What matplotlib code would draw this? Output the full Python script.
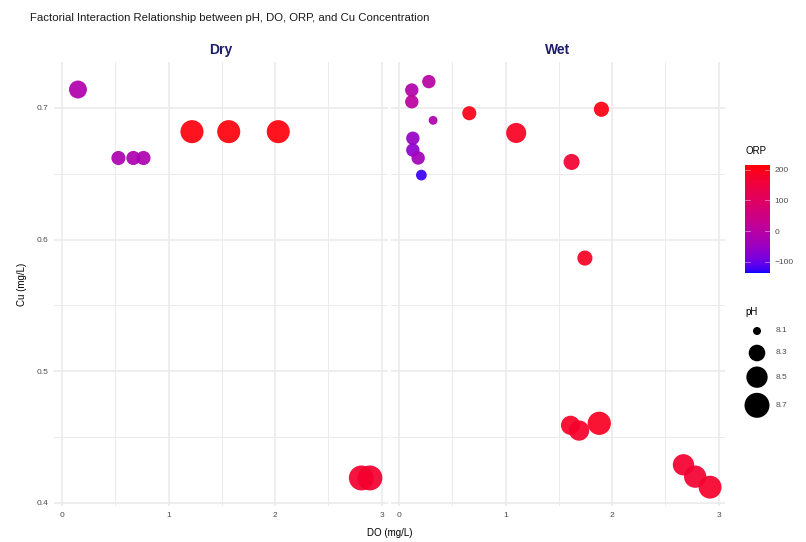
import numpy as np
import matplotlib
matplotlib.use("Agg")
import matplotlib.pyplot as plt
import matplotlib.colors as mcolors

plt.rcParams["font.family"] = ["Liberation Sans", "DejaVu Sans"]

# ---- data ----
dry_do = [0.15, 0.53, 0.67, 0.765, 1.22, 1.565, 2.03, 2.81, 2.89]
dry_cu = [0.714, 0.662, 0.662, 0.662, 0.682, 0.682, 0.682, 0.419, 0.419]
dry_ph = [8.35, 8.22, 8.22, 8.22, 8.59, 8.59, 8.59, 8.70, 8.70]
dry_orp = [-15, -20, -20, -20, 210, 210, 210, 175, 175]

wet_do = [0.12, 0.28, 0.12, 0.32, 0.13, 0.13, 0.18, 0.21,
          0.66, 1.10, 1.62, 1.90, 1.745,
          1.61, 1.69, 1.88, 2.67, 2.78, 2.92]
wet_cu = [0.7136, 0.720, 0.7047, 0.6906, 0.677, 0.668, 0.662, 0.649,
          0.696, 0.681, 0.659, 0.699, 0.586,
          0.459, 0.455, 0.4605, 0.429, 0.420, 0.412]
wet_ph = [8.20, 8.20, 8.20, 8.11, 8.20, 8.20, 8.20, 8.14,
          8.22, 8.44, 8.28, 8.25, 8.25,
          8.40, 8.45, 8.60, 8.50, 8.55, 8.58]
wet_orp = [-10, 0, 5, -20, -55, -65, -35, -125,
           200, 190, 170, 205, 190,
           185, 180, 190, 175, 170, 180]

ph_breaks = [8.1, 8.3, 8.5, 8.7]
orp_ticks = [-100, 0, 100, 200]
ORP_LIM = (-137, 216)
PH_LIM = (8.08, 8.75)


# ---- blue -> red gradient interpolated in Lab (like ggplot) ----
WHITE = np.array([0.95047, 1.0, 1.08883])
M = np.array([[0.4124, 0.3576, 0.1805],
              [0.2126, 0.7152, 0.0722],
              [0.0193, 0.1192, 0.9505]])


def to_lab(col):
    rgb = np.array(mcolors.to_rgb(col))
    lin = np.where(rgb <= 0.04045, rgb / 12.92, ((rgb + 0.055) / 1.055) ** 2.4)
    xyz = M @ lin / WHITE
    f = np.where(xyz > 0.008856, np.cbrt(xyz), 7.787 * xyz + 16 / 116)
    return np.array([116 * f[1] - 16, 500 * (f[0] - f[1]), 200 * (f[1] - f[2])])


def from_lab(lab):
    fy = (lab[:, 0] + 16) / 116
    f = np.stack([fy + lab[:, 1] / 500, fy, fy - lab[:, 2] / 200], axis=1)
    xyz = np.where(f ** 3 > 0.008856, f ** 3, (f - 16 / 116) / 7.787) * WHITE
    lin = xyz @ np.linalg.inv(M).T
    lin = np.clip(lin, 0, 1)
    rgb = np.where(lin <= 0.0031308, 12.92 * lin, 1.055 * lin ** (1 / 2.4) - 0.055)
    return np.clip(rgb, 0, 1)


t = np.linspace(0, 1, 256)[:, None]
lab = (1 - t) * to_lab("blue") + t * to_lab("red")
cmap = mcolors.ListedColormap(from_lab(lab))
norm = mcolors.Normalize(*ORP_LIM)


def ph_size(ph):
    # ggplot area scale, range 1..6 mm -> px -> pt^2 (dpi 100)
    frac = np.clip((np.asarray(ph) - PH_LIM[0]) / (PH_LIM[1] - PH_LIM[0]), 0, 1)
    d_px = 4.3 * (1 + 5 * np.sqrt(frac))
    return (d_px * 0.72) ** 2


W, H = 806, 542
fig = plt.figure(figsize=(W / 100, H / 100), dpi=100)

panels = [("Dry", dry_do, dry_cu, dry_ph, dry_orp, 54),
          ("Wet", wet_do, wet_cu, wet_ph, wet_orp, 391)]
grid_col = "#EBEBEB"
for i, (name, xs, ys, ph, orp, left_px) in enumerate(panels):
    ax = fig.add_axes([left_px / W, 36 / H, 334 / W, 444 / H])
    ax.scatter(xs, ys, s=ph_size(ph), c=orp, cmap=cmap, norm=norm,
               linewidths=0, alpha=0.92, zorder=3)
    ax.set_xlim(-0.075, 3.06)
    ax.set_ylim(0.3977, 0.7349)
    ax.set_xticks([0, 1, 2, 3])
    ax.set_xticks([0.5, 1.5, 2.5], minor=True)
    ax.set_yticks([0.4, 0.5, 0.6, 0.7])
    ax.set_yticks([0.45, 0.55, 0.65], minor=True)
    ax.grid(True, which="major", color=grid_col, linewidth=1.2, zorder=0)
    ax.grid(True, which="minor", color=grid_col, linewidth=0.7, zorder=0)
    ax.tick_params(which="both", length=0, labelsize=6, labelcolor="#4D4D4D", pad=4)
    if i == 1:
        ax.tick_params(labelleft=False)
    for sp in ax.spines.values():
        sp.set_visible(False)
    ax.set_title(name, fontsize=10, fontweight="bold", color="#1E1E6E", pad=6)

fig.text(30 / W, 1 - 18 / H,
         "Factorial Interaction Relationship between pH, DO, ORP, and Cu Concentration",
         fontsize=8.2, color="#1A1A1A", va="center", ha="left")
fig.text(389.5 / W, 1 - 533 / H, "DO (mg/L)", fontsize=7, ha="center", va="center")
fig.text(22 / W, 1 - 284 / H, "Cu (mg/L)", fontsize=7, rotation=90,
         ha="center", va="center")

# ---- ORP colour bar ----
cax = fig.add_axes([745 / W, 1 - 273 / H, 25 / W, 108 / H])
sm = plt.cm.ScalarMappable(norm=norm, cmap=cmap)
cb = fig.colorbar(sm, cax=cax, ticks=orp_ticks)
cb.outline.set_visible(False)
cax.tick_params(length=0, labelsize=6, labelcolor="#4D4D4D", pad=3)
for v in orp_ticks:
    cax.plot([0, 0.2], [v, v], color="white", lw=0.5, alpha=0.6,
             transform=cax.get_yaxis_transform())
    cax.plot([0.8, 1], [v, v], color="white", lw=0.5, alpha=0.6,
             transform=cax.get_yaxis_transform())
fig.text(745 / W, 1 - 151 / H, "ORP", fontsize=7, ha="left", va="center")

# ---- pH size legend ----
fig.text(745 / W, 1 - 312 / H, "pH", fontsize=7, ha="left", va="center")
kax = fig.add_axes([745 / W, 1 - 422 / H, 55 / W, 102 / H])
kax.set_xlim(0, 55)
kax.set_ylim(102, 0)
kax.axis("off")
key_h = np.maximum(np.sqrt(ph_size(ph_breaks)) / 0.72, 17) + 5
centers = np.cumsum(key_h) - key_h / 2
kax.scatter(np.full(len(ph_breaks), 12), centers, s=ph_size(ph_breaks),
            color="black", linewidths=0, clip_on=False)
for c, ph in zip(centers, ph_breaks):
    kax.text(31, c, f"{ph:.1f}", fontsize=6, color="#4D4D4D", va="center")

fig.savefig("out.png", dpi=100)
